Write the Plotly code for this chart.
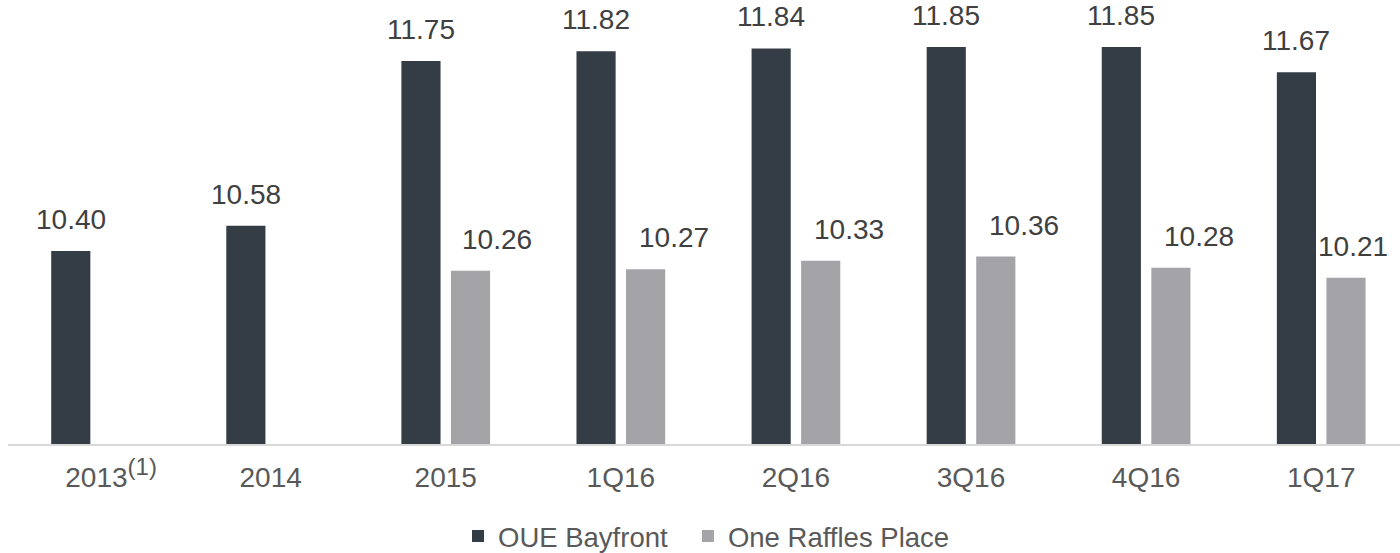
import plotly.graph_objects as go

categories = ["2013", "2014", "2015", "1Q16", "2Q16", "3Q16", "4Q16", "1Q17"]
tick_labels = ["&nbsp;&nbsp;&nbsp;&nbsp;2013<sup><span style='font-size:24px'>(1)</span></sup>",
               "2014", "2015", "1Q16", "2Q16", "3Q16", "4Q16", "1Q17"]
oue_bayfront = [10.40, 10.58, 11.75, 11.82, 11.84, 11.85, 11.85, 11.67]
one_raffles = [None, None, 10.26, 10.27, 10.33, 10.36, 10.28, 10.21]
series_names = ["OUE Bayfront&nbsp;&nbsp;", "One Raffles Place"]

DARK = "#343c46"
LIGHT = "#a4a3a8"
LABEL_COLOR = "#404040"
TICK_COLOR = "#595959"
FONT = "Liberation Sans, Arial, sans-serif"

# horizontal shift (px) of the value labels of the light series, as in the source
light_label_shift = [0, 0, 27, 28, 28, 28, 28, 7]

fig = go.Figure()
fig.add_trace(go.Bar(x=categories, y=oue_bayfront, name=series_names[0],
                     marker=dict(color=DARK, line=dict(width=0))))
fig.add_trace(go.Bar(x=categories, y=one_raffles, name=series_names[1],
                     marker=dict(color=LIGHT, line=dict(width=0))))

# value labels
for i, v in enumerate(oue_bayfront):
    fig.add_annotation(x=i, y=v, xref="x", yref="y", text=f"{v:.2f}", showarrow=False,
                       xshift=-24.75, yshift=14, yanchor="bottom",
                       font=dict(family=FONT, size=28, color=LABEL_COLOR))
for i, v in enumerate(one_raffles):
    if v is None:
        continue
    fig.add_annotation(x=i, y=v, xref="x", yref="y", text=f"{v:.2f}", showarrow=False,
                       xshift=24.75 + light_label_shift[i], yshift=14, yanchor="bottom",
                       font=dict(family=FONT, size=28, color=LABEL_COLOR))

W, H = 1400, 553
fig.update_layout(
    width=W, height=H,
    margin=dict(l=8, r=0, t=0, b=109, autoexpand=False),
    paper_bgcolor="white", plot_bgcolor="white",
    barmode="group", bargap=0.434, bargroupgap=0.21,
    font=dict(family=FONT, size=28, color=TICK_COLOR),
    showlegend=True,
    legend=dict(orientation="h", xref="container", yref="container",
                x=458 / W, xanchor="left", y=(H - 536) / H, yanchor="middle",
                font=dict(family=FONT, size=27.5, color=TICK_COLOR), traceorder="normal"),
    xaxis=dict(type="category", range=[-0.5, 7.45], automargin=False,
               tickmode="array", tickvals=list(range(len(categories))), ticktext=tick_labels,
               showline=True, linecolor="#d9d9d9", linewidth=2,
               showgrid=False, ticks="", zeroline=False, ticklabelstandoff=7,
               tickfont=dict(family=FONT, size=28, color=TICK_COLOR)),
    yaxis=dict(range=[9.028, 12.184], visible=False, showgrid=False, zeroline=False,
               automargin=False),
)

fig.write_html("out.html", config={"displayModeBar": False},
               post_script="document.body.style.margin='0';")
